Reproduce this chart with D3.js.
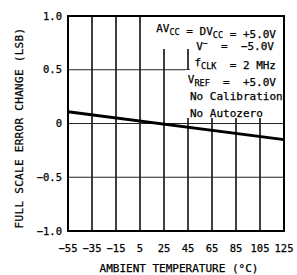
<!DOCTYPE html>
<html>
    <head>
        <meta charset="utf-8">
        <title>Full Scale Error Change vs Temperature</title>
        <script src="https://cdn.jsdelivr.net/npm/d3@7"></script>
        <style>
            body { margin: 0; background: #fff; }
            text { font-family: "DejaVu Sans Mono", monospace; fill: #000; stroke: #000; stroke-width: 0.25; white-space: pre; }
        </style>
    </head>
    <body>
        <div id="chart"></div>
        <script>
            var width = 297, height = 275;
            var margin = {top: 16, right: 13, bottom: 44, left: 68};

            // data
            var xTicks = [-55, -35, -15, 5, 25, 45, 65, 85, 105, 125];
            var yTicks = [-1.0, -0.5, 0, 0.5, 1.0];
            var yTickLabels = ["\u22121.0", "\u22120.5", "0", "0.5", "1.0"];
            var temps = [-55, 125];
            var fsError = [0.11, -0.15];

            var svg = d3.select("#chart")
                .append("svg")
                .attr("width", width)
                .attr("height", height);

            var x = d3.scaleLinear()
                .domain([-55, 125])
                .range([margin.left, width - margin.right]);

            var y = d3.scaleLinear()
                .domain([-1, 1])
                .range([height - margin.bottom, margin.top]);

            // vertical grid
            svg.append("g")
                .selectAll("line")
                .data(xTicks)
                .enter()
                .append("line")
                .attr("x1", function (d) { return x(d); })
                .attr("x2", function (d) { return x(d); })
                .attr("y1", y(1))
                .attr("y2", y(-1))
                .attr("stroke", "#000")
                .attr("stroke-width", 1.5);

            // horizontal grid
            svg.append("g")
                .selectAll("line")
                .data(yTicks)
                .enter()
                .append("line")
                .attr("x1", x(-55))
                .attr("x2", x(125))
                .attr("y1", function (d) { return y(d); })
                .attr("y2", function (d) { return y(d); })
                .attr("stroke", "#222")
                .attr("stroke-width", 1.2);

            // data line
            var line = d3.line()
                .x(function (d, i) { return x(temps[i]); })
                .y(function (d) { return y(d); });

            svg.append("path")
                .datum(fsError)
                .attr("d", line)
                .attr("fill", "none")
                .attr("stroke", "#000")
                .attr("stroke-width", 3);

            // white box behind conditions text
            var boxes = [[152, 17, 131, 32], [190, 49, 93, 21], [185, 70, 98, 48]];
            svg.append("g")
                .selectAll("rect")
                .data(boxes)
                .enter()
                .append("rect")
                .attr("x", function (d) { return d[0]; })
                .attr("y", function (d) { return d[1]; })
                .attr("width", function (d) { return d[2]; })
                .attr("height", function (d) { return d[3]; })
                .attr("fill", "#fff");

            // frame
            svg.append("rect")
                .attr("x", x(-55))
                .attr("y", y(1))
                .attr("width", x(125) - x(-55))
                .attr("height", y(-1) - y(1))
                .attr("fill", "none")
                .attr("stroke", "#000")
                .attr("stroke-width", 2);

            // conditions
            var cond = svg.append("g").attr("font-size", 11);
            function sub(t, s) {
                t.append("tspan").attr("font-size", 8.5).attr("dy", 3).text(s);
                t.append("tspan").attr("dy", -3).text("");
            }
            var t1 = cond.append("text").attr("x", 276).attr("y", 32).attr("text-anchor", "end");
            t1.append("tspan").text("AV");
            sub(t1, "CC");
            t1.append("tspan").text(" = DV");
            sub(t1, "CC");
            t1.append("tspan").text(" = +5.0V");

            var t2 = cond.append("text").attr("x", 274).attr("y", 50).attr("text-anchor", "end");
            t2.append("tspan").text("V");
            t2.append("tspan").attr("font-size", 8).attr("dy", -4).text("\u2212");
            t2.append("tspan").attr("dy", 4).text("  =  \u22125.0V");

            var t3 = cond.append("text").attr("x", 276).attr("y", 66).attr("text-anchor", "end");
            t3.append("tspan").text("f");
            sub(t3, "CLK");
            t3.append("tspan").text("  = 2 MHz");

            var t4 = cond.append("text").attr("x", 276).attr("y", 83).attr("text-anchor", "end");
            t4.append("tspan").text("V");
            sub(t4, "REF");
            t4.append("tspan").text("  =  +5.0V");

            cond.append("text").attr("x", 190).attr("y", 100).text("No Calibration");
            cond.append("text").attr("x", 190).attr("y", 117).text("No Autozero");

            // axes labels
            svg.append("g")
                .selectAll("text")
                .data(xTicks)
                .enter()
                .append("text")
                .attr("x", function (d) { return x(d); })
                .attr("y", 252)
                .attr("text-anchor", "middle")
                .attr("font-size", 10.5)
                .text(function (d) { return d < 0 ? "\u2212" + Math.abs(d) : d; });

            svg.append("g")
                .selectAll("text")
                .data(yTicks)
                .enter()
                .append("text")
                .attr("x", 62)
                .attr("y", function (d) { return y(d); })
                .attr("dy", "0.35em")
                .attr("text-anchor", "end")
                .attr("font-size", 10.5)
                .text(function (d, i) { return yTickLabels[i]; });

            svg.append("text")
                .attr("x", 179)
                .attr("y", 272)
                .attr("text-anchor", "middle")
                .attr("font-size", 11)
                .text("AMBIENT TEMPERATURE (\u00b0C)");

            svg.append("text")
                .attr("transform", "translate(23,128) rotate(-90)")
                .attr("text-anchor", "middle")
                .attr("font-size", 11)
                .attr("letter-spacing", 0.3)
                .text("FULL SCALE ERROR CHANGE (LSB)");
        </script>
    </body>
</html>
